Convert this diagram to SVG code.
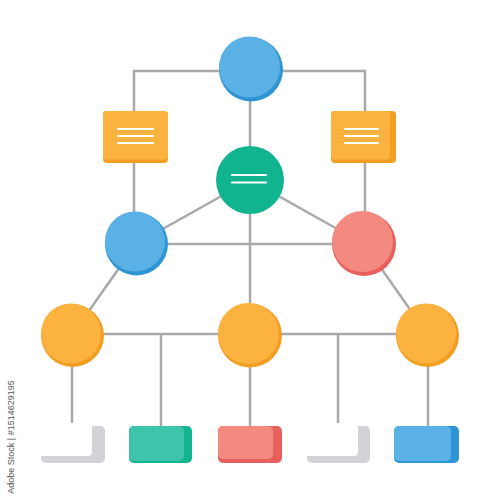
<svg xmlns="http://www.w3.org/2000/svg" width="500" height="500" viewBox="0 0 500 500">
<style>
.ln{stroke:#a9a9ab;stroke-width:2.5;fill:none;stroke-linecap:butt}
.wl{stroke:#fff;stroke-width:2.2;stroke-linecap:round}
.bD{fill:#2f94d4}.bL{fill:#5ab1e6}
.oD{fill:#f29e22}.oL{fill:#fbb23e}
.rD{fill:#e8605c}.rL{fill:#f28a7f}
.gD{fill:#10b48f}.gL{fill:#3ec3ad}
.gy{fill:#d2d3d7}
.wm{font-family:"Liberation Sans",Arial,sans-serif;font-size:9px;fill:#555}
</style>
<rect width="500" height="500" fill="#fff"/>
<g id="connectors">
<polyline class="ln" points="134,213 134,71 365,71 365,213"/>
<line class="ln" x1="250" y1="71" x2="250" y2="304"/>
<line class="ln" x1="250" y1="180" x2="136" y2="244"/>
<line class="ln" x1="250" y1="180" x2="364" y2="244"/>
<line class="ln" x1="136" y1="244" x2="364" y2="244"/>
<line class="ln" x1="136" y1="244" x2="72" y2="335"/>
<line class="ln" x1="364" y1="244" x2="428" y2="335"/>
<line class="ln" x1="72" y1="334" x2="428" y2="334"/>
<line class="ln" x1="72" y1="335" x2="72" y2="426"/>
<line class="ln" x1="161" y1="334" x2="161" y2="426"/>
<line class="ln" x1="250" y1="335" x2="250" y2="426"/>
<line class="ln" x1="338" y1="334" x2="338" y2="426"/>
<line class="ln" x1="428" y1="335" x2="428" y2="426"/>
</g>
<g id="top-circle">
<circle class="bD" cx="251" cy="69.5" r="32"/>
<circle class="bL" cx="249.5" cy="67" r="30.5"/>
</g>
<g id="left-note">
<rect class="oD" x="103" y="111" width="65" height="52" rx="4"/>
<rect class="oL" x="103" y="111" width="65" height="48.5" rx="4"/>
<line class="wl" x1="118" y1="129" x2="153" y2="129"/>
<line class="wl" x1="118" y1="136" x2="153" y2="136"/>
<line class="wl" x1="118" y1="143" x2="153" y2="143"/>
</g>
<g id="right-note">
<rect class="oD" x="331" y="111" width="65" height="52" rx="4"/>
<rect class="oL" x="331" y="111" width="59" height="48.5" rx="4"/>
<line class="wl" x1="345" y1="129" x2="378" y2="129"/>
<line class="wl" x1="345" y1="136" x2="378" y2="136"/>
<line class="wl" x1="345" y1="143" x2="378" y2="143"/>
</g>
<g id="center-circle">
<circle class="gD" cx="250" cy="180" r="34"/>
<line class="wl" x1="232" y1="175" x2="266" y2="175"/>
<line class="wl" x1="232" y1="182.5" x2="266" y2="182.5"/>
</g>
<g id="left-circle">
<circle class="bD" cx="136.5" cy="244" r="31.5"/>
<circle class="bL" cx="135" cy="241.5" r="30"/>
</g>
<g id="right-circle">
<circle class="rD" cx="364" cy="244" r="32"/>
<circle class="rL" cx="362.5" cy="241.5" r="30.5"/>
</g>
<g id="orange-left">
<circle class="oD" cx="72.5" cy="335.5" r="31.5"/>
<circle class="oL" cx="71" cy="333.5" r="30"/>
</g>
<g id="orange-mid">
<circle class="oD" cx="250" cy="335.5" r="32"/>
<circle class="oL" cx="248.5" cy="333.5" r="30.5"/>
</g>
<g id="orange-right">
<circle class="oD" cx="427.5" cy="335.5" r="31.5"/>
<circle class="oL" cx="426" cy="333.5" r="30"/>
</g>
<g id="box1">
<rect class="gy" x="41" y="426" width="64" height="37" rx="5"/>
<rect fill="#fff" x="38" y="423" width="54" height="33" rx="4"/>
</g>
<g id="box2">
<rect class="gD" x="129" y="426" width="63" height="37" rx="5"/>
<rect class="gL" x="129" y="426" width="55" height="35" rx="5"/>
</g>
<g id="box3">
<rect class="rD" x="218" y="426" width="64" height="37" rx="5"/>
<rect class="rL" x="218" y="426" width="55" height="33" rx="5"/>
</g>
<g id="box4">
<rect class="gy" x="307" y="426" width="63" height="37" rx="5"/>
<rect fill="#fff" x="304" y="423" width="54" height="33" rx="4"/>
</g>
<g id="box5">
<rect class="bD" x="394" y="426" width="65" height="37" rx="5"/>
<rect class="bL" x="394" y="426" width="57" height="35" rx="5"/>
</g>
<text class="wm" transform="translate(14,437) rotate(-90)" text-anchor="middle">Adobe Stock | #1514629195</text>
</svg>
